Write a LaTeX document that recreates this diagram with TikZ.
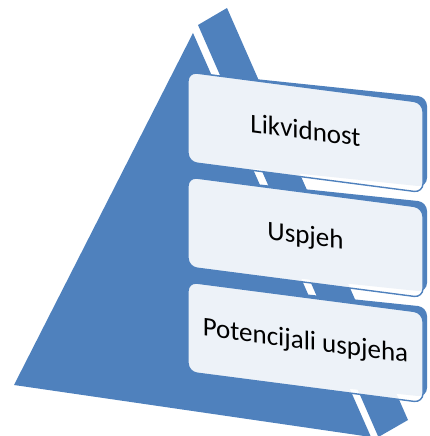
\documentclass[tikz,border=0pt]{standalone}
\usepackage{fontspec}
\setmainfont{Carlito}
\definecolor{pblue}{HTML}{4F81BD}
\tikzset{
  boxfront/.style={fill=white, fill opacity=0.9, draw=pblue, line width=1.4pt, rounded corners=9pt},
  boxback/.style={fill=pblue, rounded corners=9pt},
  lbl/.style={anchor=base, inner sep=0pt, text=black, font=\fontsize{27}{32}\selectfont, transform shape}
}
\begin{document}
\begin{tikzpicture}[x=1pt,y=1pt]
\useasboundingbox (0,0) rectangle (429,436);
% pyramid faces
\fill[pblue] (193,403) -- (14,51) -- (371,-1) -- cycle;
\fill[pblue] (198,411) -- (227,428) -- (408,16) -- (378.4,-1) -- cycle;
% boxes
\begin{scope}[shift={(188,0)}, yslant=-0.13]
  \foreach \t in {364,259,154} {
    \begin{scope}[xscale=1.017, yslant=0.026]
      \path[boxback] (0,\t-90) rectangle (235,\t);
    \end{scope}
    \path[boxfront] (0,\t-90) rectangle (235,\t);
  }
  \node[lbl] (t1) at (117.5,312) {Likvidnost};
  \node[lbl] (t2) at (117.5,207) {Uspjeh};
  \node[lbl] (t3) at (117.5,102) {Potencijali uspjeha};
\end{scope}
\end{tikzpicture}
\end{document}
